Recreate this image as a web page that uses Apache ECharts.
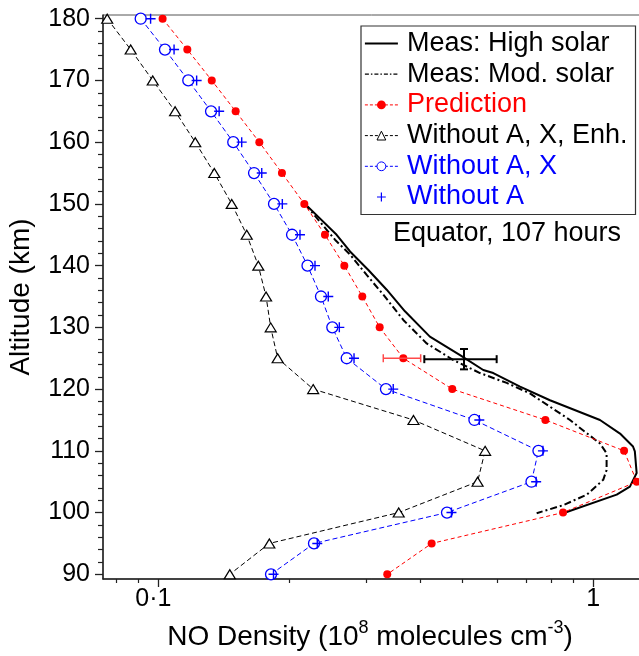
<!DOCTYPE html>
<html><head><meta charset="utf-8">
<script src="https://cdn.jsdelivr.net/npm/echarts@6/dist/echarts.min.js"></script>
<style>html,body{margin:0;padding:0;background:#fff}#c{width:639px;height:656px}</style>
</head><body><div id="c"></div>
<script>
// ---- data ----
const altitudes = [180,175,170,165,160,155,150,145,140,135,130,125,120,115,110,105,100,95,90];
const prediction = [0.1023,0.1166,0.1327,0.1506,0.1707,0.1924,0.2166,0.2416,0.2677,0.2944,0.3228,0.3658,0.474,0.776,1.177,1.259,0.852,0.425,0.336];
const withoutAXEnh = [0.0763,0.0864,0.0971,0.1093,0.1216,0.1345,0.1475,0.1597,0.1698,0.1769,0.1813,0.1881,0.227,0.386,0.564,0.542,0.357,0.180,0.146];
const withoutAX = [0.0911,0.1036,0.1172,0.1322,0.1487,0.166,0.1845,0.203,0.2203,0.2366,0.2512,0.2711,0.3337,0.533,0.748,0.721,0.461,0.228,0.1816];
const withoutA = [0.096,0.1087,0.1225,0.138,0.1555,0.1729,0.1928,0.2117,0.2292,0.2459,0.2607,0.2818,0.3468,0.547,0.766,0.739,0.472,0.232,0.184];
const measHighAlt = [150,145,142.3,139.3,136.1,132.6,128.5,125.5,123.1,122.6,120.4,118.2,115,112.8,110.7,109.9,106.4,104.2,102.9,99.9];
const measHighVal = [0.2174,0.257,0.2759,0.304,0.335,0.369,0.421,0.494,0.5586,0.589,0.6785,0.795,1.036,1.152,1.234,1.246,1.258,1.214,1.132,0.853];
const measModAlt = [150,144.2,141.8,138.5,135.3,131.2,127.4,124.7,122.6,121,119.3,115,113,111.2,109.6,106.9,105.3,102.9,101.2,99.9];
const measModVal = [0.2174,0.2548,0.2759,0.3013,0.329,0.3658,0.414,0.4768,0.549,0.6325,0.7151,0.884,0.96,1.036,1.073,1.073,1.054,0.966,0.853,0.741];
// error bars: [x low, x high, altitude, x centre (vertical bar), alt low, alt high]
const errLowX = [0.329, 0.4088];
const errHighX = [0.401, 0.5996];
const errAlt = [125, 124.85];
const errCenterX = [null, 0.5044];
const errLowAlt = [null, 123.2];
const errHighAlt = [null, 126.5];
// axis ticks
const majorXTicks = [0.1, 1];
const majorXLabels = ['0·1', '1'];
const minorXTicks = [0.08,0.09,0.2,0.3,0.4,0.5,0.6,0.7,0.8,0.9];
const majorYTicks = [90,100,110,120,130,140,150,160,170,180];
const minorYTicks = [92,94,96,98,102,104,106,108,112,114,116,118,122,124,126,128,132,134,136,138,142,144,146,148,152,154,156,158,162,164,166,168,172,174,176,178];
const xMin = 0.07462, xMax = 1.343;
const yMin = 89.24, yMax = 180.6;

// ---- chart ----
const FONT = '"Liberation Sans", Arial, Helvetica, sans-serif';
const lx = v => Math.log10(v);
const pairs = (vals, alts) => vals.map((v, i) => [v, alts[i]]);
const errData = errLowX.map((v, i) => [v, errHighX[i], errAlt[i], errCenterX[i], errLowAlt[i], errHighAlt[i]]);
const errColors = ['#ff4a4a', '#000000'];
const errWidths = [1.5, 2];

const chart = echarts.init(document.getElementById('c'), null, {renderer: 'canvas'});
const axisCol = '#222';
const option = {
  animation: false,
  backgroundColor: '#fff',
  grid: {left: 103, top: 15, width: 546, height: 564, show: true, borderColor: '#555', borderWidth: 1,
         containLabel: false, outerBoundsMode: 'none'},
  xAxis: [
    {type: 'log', logBase: 10, min: xMin, max: xMax, show: false},
    {type: 'value', min: lx(xMin), max: lx(xMax), position: 'bottom',
     axisLine: {show: true, onZero: false, lineStyle: {color: axisCol, width: 1.5}},
     axisTick: {show: true, customValues: majorXTicks.map(lx), length: 8, lineStyle: {color: axisCol, width: 1.3}},
     axisLabel: {show: true, customValues: majorXTicks.map(lx), margin: 8,
       formatter: v => { const k = majorXTicks.findIndex(t => Math.abs(lx(t) - v) < 1e-6); return k === 0 ? '{a|' + majorXLabels[k] + '}' : '{b|' + majorXLabels[k] + '}'; },
       rich: {a: {fontSize: 25, fontFamily: FONT, color: '#000', padding: [0, 10, 0, 0]}, b: {fontSize: 25, fontFamily: FONT, color: '#000'}}},
     splitLine: {show: false},
     name: '{n|NO Density (10}{s|8}{n| molecules cm}{s|-3}{n|)}',
     nameLocation: 'middle', nameGap: 40,
     nameTextStyle: {padding: [0, 12, 0, 0], rich: {
       n: {fontSize: 28, fontFamily: FONT, color: '#000', lineHeight: 32, verticalAlign: 'bottom'},
       s: {fontSize: 18, fontFamily: FONT, color: '#000', lineHeight: 16, verticalAlign: 'top'}}}
    },
    {type: 'value', min: lx(xMin), max: lx(xMax), position: 'bottom',
     axisLine: {show: false, onZero: false},
     axisTick: {show: true, customValues: minorXTicks.map(lx), length: 4, lineStyle: {color: axisCol, width: 1.2}},
     axisLabel: {show: false}, splitLine: {show: false}}
  ],
  yAxis: [
    {type: 'value', min: yMin, max: yMax, position: 'left',
     axisLine: {show: true, onZero: false, lineStyle: {color: axisCol, width: 1.5}},
     axisTick: {show: true, customValues: majorYTicks, length: 8, lineStyle: {color: axisCol, width: 1.3}},
     axisLabel: {show: true, customValues: majorYTicks, margin: 13, fontSize: 25, fontFamily: FONT, color: '#000'},
     splitLine: {show: false},
     name: 'Altitude (km)', nameLocation: 'middle', nameRotate: 90, nameGap: 63,
     nameTextStyle: {fontSize: 28, fontFamily: FONT, color: '#000', lineHeight: 32}},
    {type: 'value', min: yMin, max: yMax, position: 'left',
     axisLine: {show: false, onZero: false},
     axisTick: {show: true, customValues: minorYTicks, length: 5, lineStyle: {color: axisCol, width: 1.2}},
     axisLabel: {show: false}, splitLine: {show: false}}
  ],
  legend: {
    orient: 'vertical', left: 361, top: 26, selectedMode: false,
    borderColor: '#333', borderWidth: 1.2, backgroundColor: '#fff',
    padding: [4, 8, 4, 3], itemGap: 3.7, itemWidth: 33, itemHeight: 11,
    textStyle: {fontFamily: FONT, fontSize: 27, color: '#000', padding: [0, 0, 0, 4]},
    data: [
      {name: 'Meas: High solar', itemStyle: {opacity: 0, color: 'rgba(0,0,0,0)', borderColor: 'rgba(0,0,0,0)', borderWidth: 0}, lineStyle: {width: 1.8, color: '#000', type: 'solid'}},
      {name: 'Meas: Mod. solar', itemStyle: {opacity: 0, color: 'rgba(0,0,0,0)', borderColor: 'rgba(0,0,0,0)', borderWidth: 0}, lineStyle: {width: 1.3, color: '#000', type: [4, 2, 1.5, 2]}},
      {name: 'Prediction', textStyle: {color: '#ff0000'}, itemStyle: {color: '#ff0000', borderWidth: 0}, lineStyle: {width: 1, color: '#ff0000', type: [3, 2]}},
      {name: 'Without A, X, Enh.', itemStyle: {color: '#fff', borderColor: '#000', borderWidth: 1}, lineStyle: {width: 1, color: '#000', type: [3, 2]}},
      {name: 'Without A, X', textStyle: {color: '#0000ff'}, itemStyle: {color: '#fff', borderColor: '#0000ff', borderWidth: 1}, lineStyle: {width: 1, color: '#0000ff', type: [3, 2]}},
      {name: 'Without A', textStyle: {color: '#0000ff'}, itemStyle: {color: 'rgba(0,0,0,0)', borderColor: '#0000ff', borderWidth: 1.2}, lineStyle: {width: 0, color: 'rgba(0,0,0,0)'}}
    ]
  },
  graphic: [
    {type: 'text', x: 507, y: 234, z: 100,
     style: {text: 'Equator, 107 hours', fontSize: 27, fontFamily: FONT, fill: '#000', align: 'center', verticalAlign: 'middle'}}
  ],
  series: [
    {name: 'Meas: High solar', type: 'line', xAxisIndex: 0, yAxisIndex: 0, data: pairs(measHighVal, measHighAlt),
     symbol: 'none', lineStyle: {color: '#000', width: 2}, itemStyle: {color: '#000'}, z: 3},
    {name: 'Meas: Mod. solar', type: 'line', xAxisIndex: 0, yAxisIndex: 0, data: pairs(measModVal, measModAlt),
     symbol: 'none', lineStyle: {color: '#000', width: 2, type: [7, 3, 2, 3]}, itemStyle: {color: '#000'}, z: 3},
    {name: 'Prediction', type: 'line', xAxisIndex: 0, yAxisIndex: 0, data: pairs(prediction, altitudes),
     symbol: 'circle', symbolSize: 8, lineStyle: {color: '#ff0000', width: 1, type: [4, 3]}, itemStyle: {color: '#ff0000'}, z: 4},
    {name: 'Without A, X, Enh.', type: 'line', xAxisIndex: 0, yAxisIndex: 0, data: pairs(withoutAXEnh, altitudes),
     symbol: 'triangle', symbolSize: [11, 9], lineStyle: {color: '#000', width: 1, type: [5, 3]}, itemStyle: {color: '#fff', borderColor: '#000', borderWidth: 1.2}, z: 4},
    {name: 'Without A, X', type: 'line', xAxisIndex: 0, yAxisIndex: 0, data: pairs(withoutAX, altitudes),
     symbol: 'circle', symbolSize: 11, lineStyle: {color: '#0000ff', width: 1, type: [5, 3]}, itemStyle: {color: '#fff', borderColor: '#0000ff', borderWidth: 1.3}, z: 4},
    {name: 'Without A', type: 'line', xAxisIndex: 0, yAxisIndex: 0, data: pairs(withoutA, altitudes),
     symbol: 'path://M0,5L10,5M5,0L5,10', symbolSize: 10, lineStyle: {width: 0, color: 'rgba(0,0,0,0)'},
     itemStyle: {color: 'rgba(0,0,0,0)', borderColor: '#0000ff', borderWidth: 1.4}, z: 5},
    {type: 'custom', xAxisIndex: 0, yAxisIndex: 0, data: errData, z: 6,
     encode: {x: [0, 1], y: [2]},
     renderItem: (params, api) => {
       const i = params.dataIndex;
       const col = errColors[i], w = errWidths[i], cap = 4;
       const st = {stroke: col, lineWidth: w};
       const y = api.value(2);
       const pL = api.coord([api.value(0), y]);
       const pR = api.coord([api.value(1), y]);
       const ch = [
         {type: 'line', shape: {x1: pL[0], y1: pL[1], x2: pR[0], y2: pR[1]}, style: st},
         {type: 'line', shape: {x1: pL[0], y1: pL[1] - cap, x2: pL[0], y2: pL[1] + cap}, style: st},
         {type: 'line', shape: {x1: pR[0], y1: pR[1] - cap, x2: pR[0], y2: pR[1] + cap}, style: st}
       ];
       const cx = api.value(3), a0 = api.value(4), a1 = api.value(5);
       if (isFinite(cx) && isFinite(a0) && isFinite(a1)) {
         const pB = api.coord([cx, a0]);
         const pT = api.coord([cx, a1]);
         ch.push({type: 'line', shape: {x1: pB[0], y1: pB[1], x2: pT[0], y2: pT[1]}, style: st});
         ch.push({type: 'line', shape: {x1: pB[0] - cap, y1: pB[1], x2: pB[0] + cap, y2: pB[1]}, style: st});
         ch.push({type: 'line', shape: {x1: pT[0] - cap, y1: pT[1], x2: pT[0] + cap, y2: pT[1]}, style: st});
       }
       return {type: 'group', children: ch};
     }}
  ]
};
chart.setOption(option);
</script></body></html>
